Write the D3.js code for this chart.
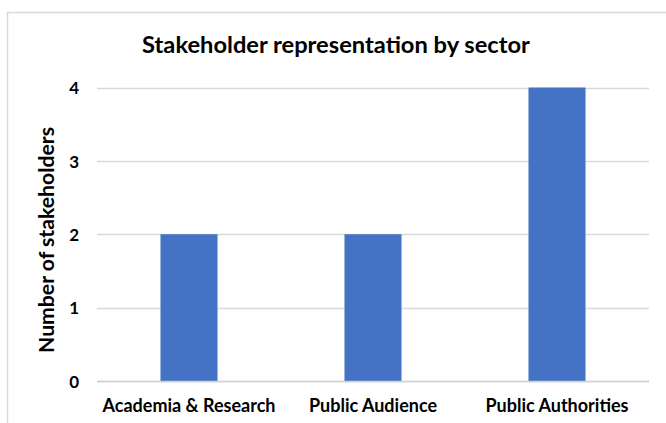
<!DOCTYPE html>
<html>
<head>
<meta charset="utf-8">
<script src="https://cdnjs.cloudflare.com/ajax/libs/d3/7.8.5/d3.min.js"></script>
<style>
  html, body { margin: 0; padding: 0; background: #fff; }
  svg { display: block; }
  text { font-family: Lato, "Open Sans", sans-serif; font-weight: 700; fill: #000; }
</style>
</head>
<body>
<svg id="chart" width="666" height="423"></svg>
<script>
const categories = ["Academia & Research", "Public Audience", "Public Authorities"];
const values = [2, 2, 4];
const yTicks = [0, 1, 2, 3, 4];
const titleText = "Stakeholder representation by sector";
const yTitleText = "Number of stakeholders";

const W = 666, H = 423;
const svg = d3.select("#chart");

// chart border (left and top visible)
svg.append("path")
  .attr("d", `M7.5,${H} L7.5,12.5 L${W},12.5`)
  .attr("fill", "none").attr("stroke", "#d9d9d9").attr("stroke-width", 1.5);

const plot = { left: 97, right: 649, top: 87.5, bottom: 381 };

const x = d3.scaleBand().domain(categories).range([plot.left, plot.right]).paddingInner(0.69).paddingOuter(0.345);
const y = d3.scaleLinear().domain([0, 4]).range([plot.bottom, plot.top]);

function fit(sel, target) {
  const w = sel.node().getComputedTextLength();
  const fs = parseFloat(sel.attr("font-size"));
  sel.attr("font-size", fs * target / w);
  return fs * target / w;
}

// gridlines
svg.append("g").selectAll("line").data(yTicks).join("line")
  .attr("x1", plot.left).attr("x2", plot.right)
  .attr("y1", d => Math.round(y(d)) + 0.5).attr("y2", d => Math.round(y(d)) + 0.5)
  .attr("stroke", "#d9d9d9").attr("stroke-width", 1.5);

// bars
svg.append("g").selectAll("rect").data(values).join("rect")
  .attr("x", (d, i) => x(categories[i]))
  .attr("width", x.bandwidth())
  .attr("y", d => y(d))
  .attr("height", d => y(0) - y(d))
  .attr("fill", "#4472c4");

// baseline axis
svg.append("line")
  .attr("x1", plot.left).attr("x2", plot.right)
  .attr("y1", Math.round(y(0)) + 0.5).attr("y2", Math.round(y(0)) + 0.5)
  .attr("stroke", "#d0d0d0").attr("stroke-width", 1.5);

// y axis tick labels
const yAxis = svg.append("g")
  .attr("transform", `translate(${plot.left - 18},0)`)
  .call(d3.axisLeft(y).tickValues(yTicks).tickFormat(d3.format("d")).tickSize(0).tickPadding(0));
yAxis.select(".domain").remove();
yAxis.selectAll("text")
  .attr("font-size", 17).attr("font-family", "Lato, 'Open Sans', sans-serif")
  .attr("font-weight", 700).attr("fill", "#000").attr("dy", "0.36em");

// x axis labels
const xAxis = svg.append("g")
  .attr("transform", `translate(0,${plot.bottom})`)
  .call(d3.axisBottom(x).tickSize(0).tickPadding(0));
xAxis.select(".domain").remove();
const xl = xAxis.selectAll("text")
  .attr("font-family", "Lato, 'Open Sans', sans-serif")
  .attr("font-weight", 700).attr("fill", "#000")
  .attr("dy", 0).attr("y", 31).attr("font-size", 16);
const first = xAxis.select("text");
const fsx = fit(first, 173);
xl.attr("font-size", fsx);

// title
const title = svg.append("text")
  .attr("x", 336).attr("y", 53)
  .attr("text-anchor", "middle")
  .attr("font-size", 22)
  .text(titleText);
fit(title, 388);

// y title
const yt = svg.append("text")
  .attr("transform", "translate(54,240) rotate(-90)")
  .attr("text-anchor", "middle")
  .attr("font-size", 16)
  .text(yTitleText);
fit(yt, 226);
</script>
</body>
</html>
